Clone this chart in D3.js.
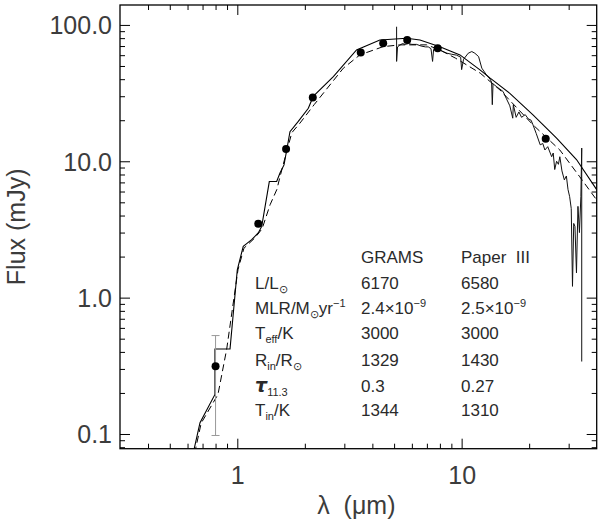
<!DOCTYPE html>
<html>
<head>
<meta charset="utf-8">
<script src="https://cdn.jsdelivr.net/npm/d3@7"></script>
<style>
  body { margin: 0; background: #fff; }
  text { font-family: "Liberation Sans", Arial, sans-serif; }
</style>
</head>
<body>
<div class="sed"></div>
<script>
//model sed drawn as a solid line (wavelength in micron, flux in mJy)
var solidLam  = [0.62, 0.682, 0.795, 0.795, 0.928, 1.0, 1.063, 1.101, 1.159, 1.24, 1.285, 1.389, 1.498, 1.55, 1.615, 1.661, 1.717, 1.87, 2.073, 2.18, 2.68, 3.40, 4.32, 5.69, 6.52, 8.0, 9.83, 12.07, 13.4, 16.4, 20.8, 26.5, 32.5, 40];
var solidFlux = [0.060, 0.121, 0.195, 0.42, 0.42, 1.6, 2.38, 2.49, 2.66, 2.98, 3.33, 7.1, 7.1, 8.2, 9.4, 12.1, 16.5, 19.6, 24.5, 29.9, 41.8, 65.6, 77.6, 79.9, 77.6, 69.3, 60.3, 46.8, 40.7, 31.5, 21.9, 14.8, 10.3, 6.2];

//model sed drawn as a dashed line
var dashLam  = [0.63, 0.69, 0.82, 0.897, 1.007, 1.07, 1.2, 1.29, 1.4, 1.5, 1.58, 1.75, 1.9, 2.2, 2.97, 3.52, 4.47, 5.31, 6.98, 8.0, 9.4, 12.1, 14.8, 20.8, 27.4, 33.6, 40];
var dashFlux = [0.060, 0.12, 0.195, 0.42, 1.6, 2.3, 2.75, 3.2, 4.8, 6.2, 8.7, 16.2, 19, 26, 48.2, 60.3, 69.3, 71.4, 71.4, 65.6, 57, 44.3, 33.4, 18.5, 12.1, 7.7, 5.2];

//irs spectrum
var specLam  = [5.13, 5.13, 5.18, 5.3, 5.45, 5.6, 5.8, 6.0, 6.3, 6.6, 6.9, 7.1, 7.3, 7.42, 7.5, 7.76, 8.2, 8.6, 9.0, 9.5, 9.9, 10.0, 10.2, 10.7, 11.1, 11.45, 11.9, 12.3, 12.9, 13.4, 13.6, 13.7, 13.8, 14.3, 15.3, 15.8, 16.4, 16.9, 17.0, 17.5, 18.0, 18.5, 19.2, 19.8, 20.4, 20.8, 21.5, 22.4, 23.0, 23.5, 24.2, 25.2, 25.6, 26.0, 26.5, 27.0, 27.4, 28.0, 28.7, 29.3, 29.8, 30.3, 30.8, 31.2, 31.6, 32.0, 32.5, 33.0, 33.5, 34.0, 34.3, 34.3];
var specFlux = [97, 54, 69, 71, 73, 72, 73, 72, 72, 70, 69, 69, 67, 54, 66, 67.6, 64, 62, 61, 60, 58, 47, 56, 62, 63.8, 62, 58.6, 48.2, 43, 40, 38, 26, 37, 35.3, 32.5, 29, 25.5, 20.7, 26, 21, 23, 21, 22, 20.5, 20, 18.5, 16, 13.2, 13.5, 12.1, 12.8, 10.8, 11.5, 8.7, 10, 9.5, 10.8, 8.5, 7.3, 7.8, 6.2, 5.5, 4.5, 1.21, 3.5, 3.33, 1.52, 4.67, 3.0, 5.5, 12.5, 0.34];

//photometry points and error bars
var photLam  = [0.80, 1.24, 1.65, 2.17, 3.55, 4.47, 5.72, 7.82, 23.7];
var photFlux = [0.314, 3.48, 12.3, 29.3, 62.7, 73.5, 77.6, 67.4, 14.6];
var errLo    = [0.0975, 3.48, 12.3, 29.3, 62.7, 73.5, 77.6, 67.4, 14.6];
var errHi    = [0.527, 3.48, 12.3, 29.3, 62.7, 73.5, 77.6, 67.4, 14.6];

//tick values
var xMajor = [1, 10];
var xMinor = [0.4, 0.5, 0.6, 0.7, 0.8, 0.9, 2, 3, 4, 5, 6, 7, 8, 9, 20, 30];
var yMajor = [0.1, 1, 10, 100];
var yMinor = [0.08, 0.09, 0.2, 0.3, 0.4, 0.5, 0.6, 0.7, 0.8, 0.9, 2, 3, 4, 5, 6, 7, 8, 9, 20, 30, 40, 50, 60, 70, 80, 90];

//table of fit parameters
var tableHead = ["", "GRAMS", "Paper  III"];
var tableGrams = ["6170", "2.4×10", "3000", "1329", "0.3", "1344"];
var tablePaper = ["6580", "2.5×10", "3000", "1430", "0.27", "1310"];

function draw() {

  const w = 600;
  const h = 521;
  const left = 120, right = 596.7, top = 5, bottom = 448.7;
  const textCol = "#3c3c3c";

  const xScale = d3.scaleLog().domain([0.3, 40]).range([left, right]);
  const yScale = d3.scaleLog().domain([0.078, 140]).range([bottom, top]);

  const svg = d3.select(".sed")
                .append("svg")
                .attr("width", w)
                .attr("height", h);

  svg.append("clipPath")
     .attr("id", "plotclip")
     .append("rect")
     .attr("x", left).attr("y", top)
     .attr("width", right - left).attr("height", bottom - top);

  const plot = svg.append("g").attr("clip-path", "url(#plotclip)");

  const line = d3.line()
                 .x((d) => xScale(d[0]))
                 .y((d) => yScale(d[1]));

  //spectrum
  plot.append("path")
      .datum(d3.zip(specLam, specFlux))
      .attr("d", line)
      .attr("fill", "none")
      .attr("stroke", "#111")
      .attr("stroke-width", 1)
      .attr("stroke-linejoin", "round");

  //solid model
  plot.append("path")
      .datum(d3.zip(solidLam, solidFlux))
      .attr("d", line)
      .attr("fill", "none")
      .attr("stroke", "#000")
      .attr("stroke-width", 1.1);

  //dashed model
  plot.append("path")
      .datum(d3.zip(dashLam, dashFlux))
      .attr("d", line)
      .attr("fill", "none")
      .attr("stroke", "#000")
      .attr("stroke-width", 1)
      .attr("stroke-dasharray", "7,4");

  //error bars
  var pts = d3.range(photLam.length).map((i) => [photLam[i], photFlux[i], errLo[i], errHi[i]]);
  var eb = plot.selectAll(".err")
      .data(pts.filter((d) => d[3] > d[2]))
      .enter()
      .append("g")
      .attr("class", "err")
      .attr("stroke", "#999")
      .attr("stroke-width", 1);
  eb.append("line")
    .attr("x1", (d) => xScale(d[0])).attr("x2", (d) => xScale(d[0]))
    .attr("y1", (d) => yScale(d[2])).attr("y2", (d) => yScale(d[3]));
  eb.append("line")
    .attr("x1", (d) => xScale(d[0]) - 4).attr("x2", (d) => xScale(d[0]) + 4)
    .attr("y1", (d) => yScale(d[2])).attr("y2", (d) => yScale(d[2]));
  eb.append("line")
    .attr("x1", (d) => xScale(d[0]) - 4).attr("x2", (d) => xScale(d[0]) + 4)
    .attr("y1", (d) => yScale(d[3])).attr("y2", (d) => yScale(d[3]));

  //photometry dots
  plot.selectAll(".dot")
      .data(pts)
      .enter()
      .append("circle")
      .attr("class", "dot")
      .attr("cx", (d) => xScale(d[0]))
      .attr("cy", (d) => yScale(d[1]))
      .attr("r", 4)
      .attr("fill", "#000");

  //axes with inward ticks on all four sides
  function addAxis(axis, tx, ty) {
    var g = svg.append("g")
       .attr("transform", "translate(" + tx + "," + ty + ")")
       .call(axis);
    g.select(".domain").remove();
    g.selectAll("line").attr("stroke", "#000").attr("stroke-width", 1);
    return g;
  }

  var xb = addAxis(d3.axisBottom(xScale).tickValues(xMajor).tickSize(-10).tickPadding(0)
                   .tickFormat(d3.format("d")), 0, bottom);
  xb.selectAll("text")
    .attr("y", 35).attr("dy", 0)
    .attr("fill", textCol).attr("font-size", 25)
    .attr("font-family", "Liberation Sans, Arial, sans-serif");
  addAxis(d3.axisBottom(xScale).tickValues(xMinor).tickSize(-5).tickFormat(""), 0, bottom);
  addAxis(d3.axisTop(xScale).tickValues(xMajor).tickSize(-10).tickFormat(""), 0, top);
  addAxis(d3.axisTop(xScale).tickValues(xMinor).tickSize(-5).tickFormat(""), 0, top);

  var yl = addAxis(d3.axisLeft(yScale).tickValues(yMajor).tickSize(-10).tickPadding(8)
                   .tickFormat(d3.format(".1f")), left, 0);
  yl.selectAll("text")
    .attr("dy", "0.35em")
    .attr("fill", textCol).attr("font-size", 25)
    .attr("font-family", "Liberation Sans, Arial, sans-serif");
  addAxis(d3.axisLeft(yScale).tickValues(yMinor).tickSize(-5).tickFormat(""), left, 0);
  addAxis(d3.axisRight(yScale).tickValues(yMajor).tickSize(-10).tickFormat(""), right, 0);
  addAxis(d3.axisRight(yScale).tickValues(yMinor).tickSize(-5).tickFormat(""), right, 0);

  //frame
  svg.append("rect")
     .attr("x", left).attr("y", top)
     .attr("width", right - left).attr("height", bottom - top)
     .attr("fill", "none")
     .attr("stroke", "#000")
     .attr("stroke-width", 1.3);

  //axis titles
  svg.append("text")
     .attr("x", (left + right) / 2 - 2)
     .attr("y", 514)
     .attr("text-anchor", "middle")
     .attr("font-size", 25)
     .attr("fill", textCol)
     .style("white-space", "pre")
     .text("λ  (μm)");

  svg.append("text")
     .attr("transform", "translate(25," + ((top + bottom) / 2) + ") rotate(-90)")
     .attr("text-anchor", "middle")
     .attr("font-size", 25)
     .attr("fill", textCol)
     .text("Flux (mJy)");

  //parameter table
  const c0 = 255, c1 = 361, c2 = 461;
  const rows = [263, 289, 314, 339, 366, 392, 416];
  const fs = 17;

  var tbl = svg.append("g")
               .attr("font-size", fs)
               .attr("fill", "#2a2a2a");

  tbl.append("text").attr("x", c1).attr("y", rows[0]).text(tableHead[1]);
  tbl.append("text").attr("x", c2).attr("y", rows[0]).style("white-space", "pre").text(tableHead[2]);

  //row labels with sub and superscripts
  function label(y, parts) {
    var t = tbl.append("text").attr("x", c0).attr("y", y);
    parts.forEach((p) => {
      var s = t.append("tspan").text(p.t);
      if (p.sub) s.attr("font-size", 11).attr("dy", 4);
      if (p.sup) s.attr("font-size", 11).attr("dy", -7);
      if (p.back) s.attr("dy", p.back);
      if (p.tau) s.attr("font-family", "DejaVu Sans").attr("font-weight", "bold")
                  .attr("font-style", "italic").attr("font-size", 19);
    });
  }
  label(rows[1], [{t: "L/L"}, {t: "⊙", sub: true}]);
  label(rows[2], [{t: "MLR/M"}, {t: "⊙", sub: true}, {t: "yr", back: -4}, {t: "−1", sup: true}]);
  label(rows[3], [{t: "T"}, {t: "eff", sub: true}, {t: "/K", back: -4}]);
  label(rows[4], [{t: "R"}, {t: "in", sub: true}, {t: "/R", back: -4}, {t: "⊙", sub: true}]);
  label(rows[5], [{t: "τ", tau: true}, {t: "11.3", sub: true}]);
  label(rows[6], [{t: "T"}, {t: "in", sub: true}, {t: "/K", back: -4}]);

  //values in the two columns
  [[c1, tableGrams], [c2, tablePaper]].forEach((col) => {
    col[1].forEach((v, i) => {
      var t = tbl.append("text").attr("x", col[0]).attr("y", rows[i + 1]).text(v);
      if (i == 1) {
        t.append("tspan").attr("font-size", 11).attr("dy", -7).text("−9");
      }
    });
  });

}//end of draw

draw();
</script>
</body>
</html>
